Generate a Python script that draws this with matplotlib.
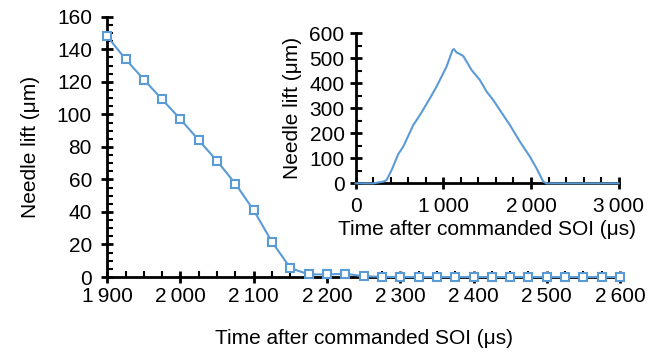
import numpy as np
import matplotlib
matplotlib.use("Agg")
from matplotlib import pyplot as plt
from matplotlib.ticker import MultipleLocator, FuncFormatter

plt.rcParams['font.family'] = ['Liberation Sans', 'DejaVu Sans']

# ---------------- data ----------------
t_main = [1900, 1925, 1950, 1975, 2000, 2025, 2050, 2075, 2100, 2125, 2150,
          2175, 2200, 2225, 2250, 2275, 2300, 2325, 2350, 2375, 2400, 2425,
          2450, 2475, 2500, 2525, 2550, 2575, 2600]
lift_main = [148, 134, 121.4, 109.2, 97, 84.1, 71.3, 57.3, 41, 21.5, 5.5,
             1.6, 1.6, 2.0, 0.5, 0.1, 0, 0, 0, 0, 0, 0,
             0, 0, 0, 0, 0, 0, 0]

t_inset = [0, 200, 315, 353, 410, 486, 543, 657, 733, 847, 923, 1037, 1105,
           1120, 1151, 1189, 1227, 1265, 1322, 1417, 1493, 1569, 1645, 1759,
           1873, 1987, 2063, 2139, 2177, 2400, 3000]
lift_inset = [0, 0, 7, 13, 53, 117, 147, 233, 273, 340, 387, 467, 533,
              537, 523, 517, 509, 487, 453, 413, 367, 333, 293, 233,
              167, 107, 60, 7, 0, 0, 0]

blue = '#5B9BD5'
fs = 15


def thin(v, pos):
    v = int(round(v))
    if v >= 1000:
        return "{}\u2009{:03d}".format(v // 1000, v % 1000)
    return str(v)


def style(ax, xpad, ypad):
    for s in ['top', 'right']:
        ax.spines[s].set_visible(False)
    for s in ['left', 'bottom']:
        ax.spines[s].set_linewidth(2)
    ax.tick_params(which='major', direction='inout', length=8, width=2,
                   labelsize=fs)
    ax.tick_params(axis='x', which='major', pad=xpad)
    ax.tick_params(axis='y', which='major', pad=ypad)
    ax.tick_params(which='minor', direction='in', length=4, width=1.5)


fig = plt.figure(figsize=(6.66, 3.54), dpi=100)

######################## main plot ########################
ax = fig.add_axes([0.161, 0.2175, 0.77, 0.735])
ax.plot(t_main, lift_main, color=blue, linewidth=1.5, marker='s', markersize=6,
        markerfacecolor='white', markeredgecolor=blue, markeredgewidth=1.5,
        clip_on=False, zorder=5)
ax.set_xlim(1900, 2600)
ax.set_ylim(0, 160)
ax.xaxis.set_major_locator(MultipleLocator(100))
ax.xaxis.set_minor_locator(MultipleLocator(25))
ax.yaxis.set_major_locator(MultipleLocator(20))
ax.yaxis.set_minor_locator(MultipleLocator(5))
ax.xaxis.set_major_formatter(FuncFormatter(thin))
style(ax, 3, 7)
ax.set_xlabel("Time after commanded SOI (\u03bcs)", fontsize=fs, labelpad=17)
ax.set_ylabel("Needle lift (\u03bcm)", fontsize=fs, labelpad=12)

######################## inset ########################
ins = fig.add_axes([0.534, 0.482, 0.395, 0.424])
ins.plot(t_inset, lift_inset, color=blue, linewidth=1.5, clip_on=False, zorder=5)
ins.set_xlim(0, 3000)
ins.set_ylim(0, 600)
ins.xaxis.set_major_locator(MultipleLocator(1000))
ins.xaxis.set_minor_locator(MultipleLocator(200))
ins.yaxis.set_major_locator(MultipleLocator(100))
ins.yaxis.set_minor_locator(MultipleLocator(50))
ins.xaxis.set_major_formatter(FuncFormatter(thin))
style(ins, 6, 4)
ins.patch.set_alpha(0)
ins.set_xlabel("Time after commanded SOI (\u03bcs)", fontsize=fs, labelpad=3)
ins.set_ylabel("Needle lift (\u03bcm)", fontsize=fs, labelpad=5)

plt.savefig('out.png', dpi=100)
